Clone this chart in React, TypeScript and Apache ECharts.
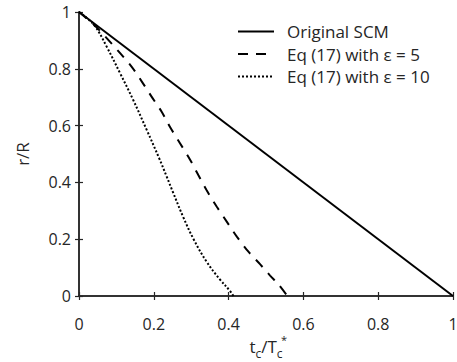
import React, { useEffect, useRef } from "react";
import * as echarts from "echarts";

const xTicks = [0, 0.2, 0.4, 0.6, 0.8, 1];
const yTicks = [0, 0.2, 0.4, 0.6, 0.8, 1];
const seriesNames = ["Original SCM", "Eq (17) with ε = 5", "Eq (17) with ε = 10"];

const scmX = [0, 1];
const scmY = [1, 0];

const eps5X = [0, 0.04, 0.074, 0.11, 0.141, 0.168, 0.194, 0.221, 0.243, 0.27, 0.297, 0.319, 0.341, 0.368, 0.395, 0.422, 0.453, 0.484, 0.511, 0.535, 0.557];
const eps5Y = [1, 0.955, 0.908, 0.855, 0.807, 0.755, 0.702, 0.649, 0.596, 0.538, 0.48, 0.426, 0.373, 0.315, 0.262, 0.209, 0.156, 0.112, 0.072, 0.038, 0];

const eps10X = [0, 0.02, 0.043, 0.074, 0.11, 0.145, 0.181, 0.215, 0.234, 0.252, 0.279, 0.306, 0.341, 0.377, 0.404, 0.413];
const eps10Y = [1, 0.98, 0.95, 0.878, 0.784, 0.69, 0.585, 0.483, 0.422, 0.363, 0.277, 0.201, 0.121, 0.058, 0.0175, 0];

const zip = (xs: number[], ys: number[]) => xs.map((x, i) => [x, ys[i]]);

const FONT = "'Open Sans', sans-serif";
const INK = "#262626";

export default function App() {
  const ref = useRef<HTMLDivElement>(null);
  useEffect(() => {
    document.body.style.margin = "0";
    const chart = echarts.init(ref.current!, undefined, { renderer: "svg" });
    const axisCommon = {
      type: "value" as const,
      min: 0,
      max: 1,
      interval: 0.2,
      splitLine: { show: false },
      axisLine: { show: true, lineStyle: { color: INK, width: 1.5 } },
      axisTick: { show: true, inside: true, length: 4, lineStyle: { color: INK, width: 1.2 } },
    };
    const fmt = (v: number) => {
      const r = Math.round(v * 10) / 10;
      return xTicks.includes(r) || yTicks.includes(r) ? String(r) : "";
    };
    chart.setOption({
      animation: false,
      backgroundColor: "#ffffff",
      grid: { left: 79, right: 4, top: 12, bottom: 66, outerBoundsMode: "none", containLabel: false },
      legend: {
        orient: "vertical",
        left: 232,
        top: 18,
        itemWidth: 36,
        itemHeight: 14,
        itemGap: 5.5,
        data: seriesNames,
        itemStyle: { opacity: 0 },
        textStyle: { fontFamily: FONT, fontSize: 17, color: INK, lineHeight: 17, padding: [0, 0, 0, 8] },
      },
      xAxis: [
        {
          ...axisCommon,
          position: "bottom",
          axisLabel: { fontFamily: FONT, fontSize: 16, color: INK, margin: 20, formatter: fmt },
          name: "{i|t}{s|c}{i|/T}{s|c}",
          nameLocation: "middle",
          nameGap: 37,
          nameMoveOverlap: false,
          nameTextStyle: {
            rich: {
              i: { fontFamily: FONT, fontSize: 17, color: INK, lineHeight: 22, verticalAlign: "bottom" },
              s: { fontFamily: FONT, fontSize: 12, color: INK, lineHeight: 12, verticalAlign: "bottom", padding: [0, 0, -4, 0] },
            },
          },
        },
        { ...axisCommon, position: "top", axisLabel: { show: false } },
      ],
      yAxis: [
        {
          ...axisCommon,
          position: "left",
          axisLabel: { fontFamily: FONT, fontSize: 16, color: INK, margin: 8, formatter: fmt },
          name: "r/R",
          nameLocation: "middle",
          nameGap: 48,
          nameMoveOverlap: false,
          nameTextStyle: { fontFamily: FONT, fontSize: 17, color: INK },
        },
        { ...axisCommon, position: "right", axisLabel: { show: false } },
      ],
      graphic: [
        { type: "text", left: 281, top: 334, style: { text: "*", font: `11px ${FONT}`, fill: INK } },
      ],
      series: [
        {
          name: seriesNames[0],
          type: "line",
          data: zip(scmX, scmY),
          showSymbol: false,
          symbol: "none",
          lineStyle: { color: "#000", width: 2, type: "solid" },
          itemStyle: { color: "#000" },
        },
        {
          name: seriesNames[1],
          type: "line",
          data: zip(eps5X, eps5Y),
          smooth: 0.3,
          showSymbol: false,
          symbol: "none",
          lineStyle: { color: "#000", width: 2, type: [10, 8] },
          itemStyle: { color: "#000" },
        },
        {
          name: seriesNames[2],
          type: "line",
          data: zip(eps10X, eps10Y),
          smooth: 0.4,
          showSymbol: false,
          symbol: "none",
          lineStyle: { color: "#000", width: 2, type: [2, 2] },
          itemStyle: { color: "#000" },
        },
      ],
    });
    return () => chart.dispose();
  }, []);
  return <div ref={ref} style={{ width: 457, height: 362 }} />;
}
